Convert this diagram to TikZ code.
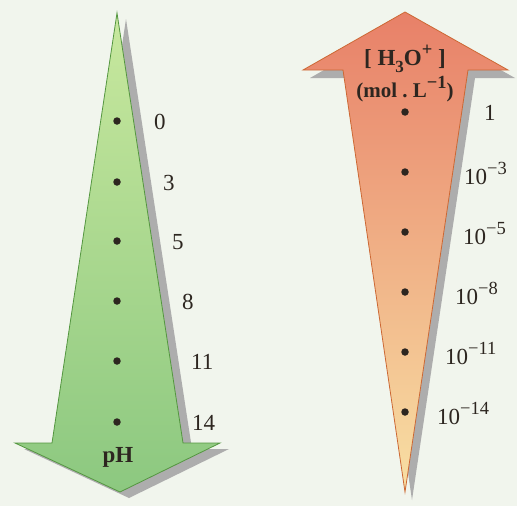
\documentclass[tikz,border=0pt]{standalone}
\usepackage{fontspec}
\setmainfont{Liberation Serif}
\definecolor{paper}{RGB}{241,245,237}
\definecolor{gtop}{RGB}{200,232,158}
\definecolor{gbot}{RGB}{140,200,128}
\definecolor{gline}{RGB}{84,150,64}
\definecolor{rtop}{RGB}{232,128,104}
\definecolor{rbot}{RGB}{248,224,164}
\definecolor{rline}{RGB}{204,104,52}
\definecolor{ink}{RGB}{45,38,32}
\newcommand\pw[1]{\raisebox{0.42em}{\fontsize{18.5}{20}\selectfont #1}}

\begin{document}
\begin{tikzpicture}[x=1pt, y=-1pt, dot/.style={circle, fill=ink, inner sep=0pt, minimum size=7.5pt}, val/.style={anchor=base west, inner sep=0pt, text=ink, font=\fontsize{23}{27}\selectfont}, head/.style={inner sep=0pt, text=ink, font=\fontsize{23}{27}\selectfont\bfseries}, shadow/.style={fill=black!32}]
	\fill[paper] (0,0) rectangle (517,506);
	\useasboundingbox (0,0) rectangle (517,506);
	% pH arrow (down)
	\fill[shadow, shift={(9,6)}] (117,13) -- (183,443) -- (220,443) -- (120,492) -- (15,443) -- (52,443) -- cycle;
	\shadedraw[top color=gtop, bottom color=gbot, draw=gline, line width=0.8pt] (117,13) -- (183,443) -- (220,443) -- (120,492) -- (15,443) -- (52,443) -- cycle;
	\foreach \y/\x/\v [count=\i] in {121/154/0, 182/163/3, 241/172/5, 301/182/8, 361/191/11, 422/192/14} {
		\node[dot] (g\i) at (117,\y) {};
		\node[val] (gv\i) at (\x,\y+8) {\v};
	}
	\node[head] (ph) at (118,457) {pH};
	% [H3O+] arrow (up)
	\fill[shadow, shift={(7,8)}] (405,12) -- (508,70) -- (468,70) -- (405,492) -- (343,70) -- (303,70) -- cycle;
	\shadedraw[top color=rtop, bottom color=rbot, draw=rline, line width=0.8pt] (405,12) -- (508,70) -- (468,70) -- (405,492) -- (343,70) -- (303,70) -- cycle;
	\node[head] (conc) at (405,59) {[\ H\raisebox{-0.3em}{\fontsize{17}{20}\selectfont 3}O\pw{+}\ ]};
	\node[head, font=\fontsize{21}{25}\selectfont\bfseries] (unit) at (405,89) {(mol\ .\ L\pw{−1})};
	\node[dot] (r1) at (405,112) {};
	\node[val] (rv1) at (484,120) {1};
	\foreach \y/\x/\v [count=\i from 2] in {172/464/3, 232/463/5, 292/455/8, 352/445/11, 412/437/14} {
		\node[dot] (r\i) at (405,\y) {};
		\node[val] (rv\i) at (\x,\y+12) {10\pw{−\v}};
	}
\end{tikzpicture}
\end{document}
